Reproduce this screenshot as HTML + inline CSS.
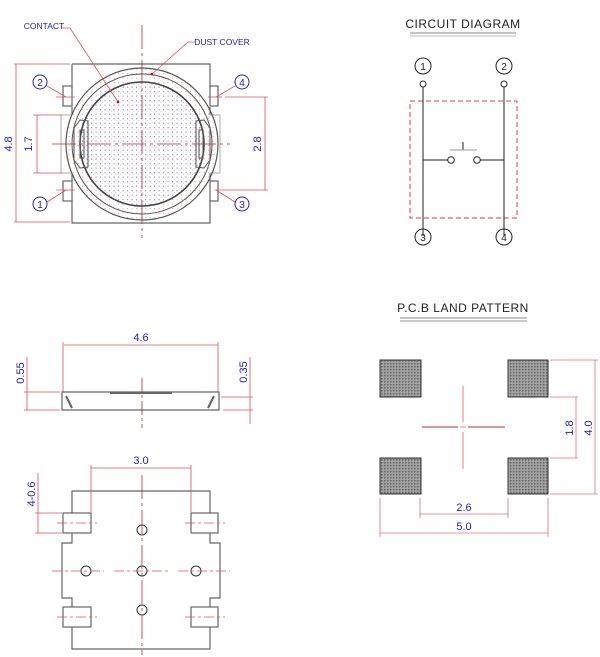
<!DOCTYPE html>
<html><head><meta charset="utf-8"><style>
html,body{margin:0;padding:0;background:#fff}
svg{display:block}
text{font-family:"Liberation Sans",sans-serif}
</style></head><body>
<svg width="600" height="657" viewBox="0 0 600 657" xmlns="http://www.w3.org/2000/svg">
<defs>
<pattern id="pd" width="4.5" height="4.5" patternUnits="userSpaceOnUse"><rect x="1" y="1" width="1.2" height="1.2" fill="#f4b0b0"/></pattern>
<pattern id="bd" width="4.5" height="4.5" patternUnits="userSpaceOnUse"><rect x="1" y="1" width="1.1" height="1.3" fill="#9898e0"/><rect x="3" y="3" width="1" height="1" fill="#d4d4d4"/></pattern>
<pattern id="pad" width="3" height="3" patternUnits="userSpaceOnUse"><rect width="3" height="3" fill="#9a9a9a"/><rect x="0" y="0" width="1.5" height="1.5" fill="#6a6a6a"/><rect x="1.5" y="1.5" width="1" height="1" fill="#c0c0c0"/></pattern>
</defs>

<!-- ===== TOP VIEW ===== -->
<g fill="none" stroke="#666" stroke-width="1.2">
<path d="M72,64 H210 V88 M210,107 V115 M210,173 V181 M210,200 V223 H72 V200 M72,181 V173 M72,115 V107 M72,88 V64"/>
<rect x="63" y="86" width="9" height="20"/>
<rect x="63" y="181" width="9" height="20"/>
<rect x="210" y="86" width="8" height="20"/>
<rect x="210" y="181" width="8" height="20"/>
<path d="M72,115 H61 V173 H72" stroke="#bbb"/>
<path d="M210,115 H220 V173 H210" stroke="#bbb"/>
</g>
<circle cx="142" cy="144" r="76" fill="url(#pd)" stroke="#555" stroke-width="1.2"/>
<circle cx="142" cy="144" r="70" fill="none" stroke="#555" stroke-width="1"/>
<circle cx="142" cy="144" r="62" fill="url(#bd)" stroke="#444" stroke-width="1.6"/>
<path d="M80,120 L88,121 L88,167 L80,168 L74,160 V128 Z" fill="none" stroke="#555"/>
<rect x="80" y="130" width="4" height="28" fill="none" stroke="#555"/>
<path d="M204,120 L196,121 L196,167 L204,168 L210,160 V128 Z" fill="none" stroke="#555"/>
<rect x="199" y="130" width="4" height="28" fill="none" stroke="#555"/>
<g stroke="#b03030" stroke-width="0.8" stroke-dasharray="24,4,3,4">
<line x1="142" y1="25" x2="142" y2="238"/>
<line x1="52" y1="144" x2="230" y2="144"/>
</g>
<!-- dims top view -->
<g stroke="#e05050" stroke-width="0.8" fill="none">
<line x1="14" y1="64" x2="70" y2="64"/><line x1="14" y1="222" x2="70" y2="222"/>
<line x1="16" y1="64" x2="16" y2="222"/>
<line x1="33" y1="115" x2="62" y2="115"/><line x1="33" y1="173" x2="62" y2="173"/>
<line x1="37" y1="115" x2="37" y2="173"/>
<line x1="225" y1="97" x2="268" y2="97"/><line x1="215" y1="190" x2="268" y2="190"/>
<line x1="265" y1="97" x2="265" y2="190"/>
<line x1="56" y1="97" x2="75" y2="97"/><line x1="56" y1="190" x2="75" y2="190"/>
<line x1="208" y1="97" x2="222" y2="97"/>
<path d="M62,28 H70 L118,102"/><path d="M195,42 H188 L152,74"/>
<path d="M47,86 L66,97"/><path d="M47,202 L66,190"/>
<path d="M235,86 L216,97"/><path d="M235,202 L216,190"/>
</g>
<g fill="#c00"><circle cx="118" cy="102" r="1.3"/><circle cx="152" cy="74" r="1.3"/></g>
<g fill="#fff" stroke="#2020c0" stroke-width="1"><circle cx="40" cy="82" r="7"/><circle cx="40" cy="204" r="7"/><circle cx="242" cy="82" r="7"/><circle cx="242" cy="204" r="7"/></g>
<g fill="#2020c0" font-size="10" text-anchor="middle">
<text x="40" y="86">2</text><text x="40" y="208">1</text><text x="242" y="86">4</text><text x="242" y="208">3</text>
<text x="44" y="29" font-size="8.5">CONTACT</text>
<text x="222" y="45" font-size="8.5">DUST COVER</text>
<text transform="translate(12,144) rotate(-90)" font-size="11">4.8</text>
<text transform="translate(32,144) rotate(-90)" font-size="11">1.7</text>
<text transform="translate(261,144) rotate(-90)" font-size="11">2.8</text>
</g>

<!-- ===== SIDE VIEW ===== -->
<g fill="none" stroke="#666" stroke-width="1.2">
<path d="M62,392 H219 V410 H62 Z"/>
<path d="M66,396 L72,408 M214,396 L208,408" stroke-width="2"/>
<line x1="110" y1="393" x2="172" y2="393" stroke-width="2"/>
</g>
<line x1="142" y1="378" x2="142" y2="428" stroke="#b03030" stroke-width="0.8" stroke-dasharray="14,3,3,3"/>
<g stroke="#e05050" stroke-width="0.8">
<line x1="63" y1="342" x2="63" y2="392"/><line x1="218" y1="342" x2="218" y2="392"/>
<line x1="64" y1="345" x2="218" y2="345"/>
<line x1="24" y1="392" x2="60" y2="392"/><line x1="24" y1="410" x2="60" y2="410"/>
<line x1="27" y1="357" x2="27" y2="410"/>
<line x1="221" y1="397" x2="253" y2="397"/><line x1="223" y1="410" x2="253" y2="410"/>
<line x1="250" y1="357" x2="250" y2="424"/>
</g>
<g fill="#2020c0" font-size="11" text-anchor="middle">
<text x="141" y="341">4.6</text>
<text transform="translate(24,373) rotate(-90)">0.55</text>
<text transform="translate(247,372) rotate(-90)">0.35</text>
</g>

<!-- ===== BOTTOM VIEW ===== -->
<g fill="none" stroke="#666" stroke-width="1.2">
<path d="M72,513 V491 H210 V513 M210,533 V543 H220 V598 H210 V607 M210,627 V649 H72 V627 M72,607 V598 H62 V543 H72 V533"/>
<rect x="63" y="513" width="28" height="20"/>
<rect x="191" y="513" width="27" height="20"/>
<rect x="63" y="607" width="28" height="20"/>
<rect x="191" y="607" width="27" height="20"/>
</g>
<g fill="none" stroke="#333" stroke-width="1">
<circle cx="142" cy="530" r="5"/><circle cx="86" cy="571" r="5"/><circle cx="142" cy="571" r="5"/><circle cx="196" cy="571" r="5"/><circle cx="142" cy="610" r="5"/>
</g>
<g stroke="#e05050" stroke-width="0.8" stroke-dasharray="10,3,3,3">
<line x1="57" y1="523" x2="97" y2="523"/><line x1="185" y1="523" x2="225" y2="523"/>
<line x1="57" y1="617" x2="97" y2="617"/><line x1="185" y1="617" x2="225" y2="617"/>
<line x1="52" y1="571" x2="104" y2="571"/><line x1="114" y1="571" x2="168" y2="571"/><line x1="178" y1="571" x2="230" y2="571"/>
</g>
<line x1="142" y1="475" x2="142" y2="655" stroke="#b03030" stroke-width="0.8" stroke-dasharray="24,4,3,4"/>
<g stroke="#e05050" stroke-width="0.8">
<line x1="91" y1="465" x2="91" y2="512"/><line x1="191" y1="465" x2="191" y2="512"/>
<line x1="91" y1="468" x2="191" y2="468"/>
<line x1="35" y1="513" x2="62" y2="513"/><line x1="35" y1="533" x2="62" y2="533"/>
<line x1="38" y1="473" x2="38" y2="533"/>
</g>
<g fill="#2020c0" font-size="11" text-anchor="middle">
<text x="141" y="464">3.0</text>
<text transform="translate(35,494) rotate(-90)">4-0.6</text>
</g>

<!-- ===== CIRCUIT DIAGRAM ===== -->
<text x="463" y="28" font-size="12" text-anchor="middle" fill="#222" letter-spacing="0.5">CIRCUIT DIAGRAM</text>
<line x1="410" y1="33" x2="516" y2="33" stroke="#888" stroke-width="1"/>
<line x1="410" y1="36" x2="516" y2="36" stroke="#bbb" stroke-width="1"/>
<rect x="410" y="101" width="107" height="117" fill="none" stroke="#e04040" stroke-width="1" stroke-dasharray="5,3"/>
<g stroke="#222" stroke-width="1" fill="none">
<circle cx="423" cy="66" r="8"/><circle cx="504" cy="66" r="8"/>
<circle cx="423" cy="84" r="3"/><circle cx="504" cy="84" r="3"/>
<line x1="423" y1="87" x2="423" y2="236"/><line x1="504" y1="87" x2="504" y2="236"/>
<line x1="423" y1="160" x2="448" y2="160"/><line x1="480" y1="160" x2="504" y2="160"/>
<circle cx="451" cy="160" r="3.3"/><circle cx="477" cy="160" r="3.3"/>
<line x1="463" y1="142" x2="463" y2="150"/>
<circle cx="423" cy="237" r="8"/><circle cx="504" cy="237" r="8"/>
</g>
<line x1="450" y1="150" x2="477" y2="150" stroke="#999"/>
<g font-size="10" text-anchor="middle" fill="#222">
<text x="423" y="70">1</text><text x="504" y="70">2</text><text x="423" y="241">3</text><text x="504" y="241">4</text>
</g>

<!-- ===== PCB LAND PATTERN ===== -->
<text x="463" y="312" font-size="12" text-anchor="middle" fill="#222" letter-spacing="0.5">P.C.B LAND PATTERN</text>
<line x1="400" y1="318" x2="527" y2="318" stroke="#888" stroke-width="1"/>
<line x1="400" y1="321" x2="527" y2="321" stroke="#999" stroke-width="1"/>
<g fill="url(#pad)" stroke="#333" stroke-width="1">
<rect x="380" y="360" width="41" height="37"/><rect x="508" y="360" width="40" height="37"/>
<rect x="380" y="458" width="41" height="36"/><rect x="508" y="458" width="40" height="36"/>
</g>
<g stroke="#f07070" stroke-width="0.9">
<line x1="463" y1="386" x2="463" y2="422"/><line x1="463" y1="432" x2="463" y2="469"/>
<line x1="460" y1="427" x2="466" y2="427"/>
</g>
<g stroke="#b03030" stroke-width="0.9">
<line x1="422" y1="427" x2="458" y2="427"/><line x1="468" y1="427" x2="505" y2="427"/>
</g>
<g stroke="#e07070" stroke-width="0.8">
<line x1="550" y1="360" x2="598" y2="360"/><line x1="550" y1="494" x2="598" y2="494"/>
<line x1="550" y1="397" x2="578" y2="397"/><line x1="550" y1="458" x2="578" y2="458"/>
<line x1="576" y1="397" x2="576" y2="458"/><line x1="595" y1="360" x2="595" y2="494"/>
<line x1="380" y1="498" x2="380" y2="537"/><line x1="548" y1="498" x2="548" y2="537"/>
<line x1="420" y1="498" x2="420" y2="518"/><line x1="508" y1="498" x2="508" y2="518"/>
<line x1="420" y1="514" x2="508" y2="514"/><line x1="380" y1="533" x2="548" y2="533"/>
</g>
<g fill="#2020c0" font-size="11" text-anchor="middle">
<text x="464" y="511">2.6</text><text x="464" y="530">5.0</text>
<text transform="translate(573,428) rotate(-90)">1.8</text>
<text transform="translate(592,428) rotate(-90)">4.0</text>
</g>
</svg>
</body></html>
